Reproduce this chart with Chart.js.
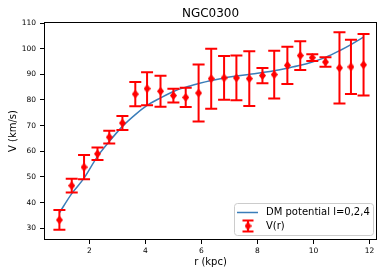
<!DOCTYPE html>
<html><head><meta charset="utf-8">
<script src="https://cdn.jsdelivr.net/npm/chart.js@4"></script>
<style>html,body{margin:0;padding:0;background:#fff}#wrap{width:385px;height:277px;position:relative}</style>
</head><body><div id="wrap"><canvas id="c" width="385" height="277"></canvas></div>
<script>
const chartTitle = 'NGC0300';
const xLabel = 'r (kpc)';
const yLabel = 'V (km/s)';
const seriesNames = ['DM potential l=0,2,4', 'V(r)'];
const radius = [0.93,1.37,1.81,2.29,2.71,3.18,3.64,4.06,4.54,5.00,5.44,5.90,6.35,6.81,7.25,7.71,8.18,8.60,9.07,9.53,9.96,10.43,10.93,11.34,11.79];
const velocity = [33.2,46.6,53.8,59.0,65.5,71.0,82.3,84.4,83.4,81.7,81.0,82.7,88.3,88.6,88.6,88.3,89.5,89.9,93.5,97.3,96.5,94.8,92.5,92.9,93.7];
const velocityErr = [3.85,2.65,4.7,2.45,2.45,2.7,4.75,6.45,6.05,2.65,3.75,11.1,11.7,8.5,8.7,10.7,3.0,9.3,7.25,5.6,1.3,1.85,13.9,10.55,12.0];
const modelVelocity = [36.0,43.5,49.5,58.0,63.8,69.7,74.3,77.9,80.8,83.3,85.0,86.4,87.6,88.6,89.3,90.0,90.7,91.4,92.4,93.5,94.8,96.6,99.2,101.6,104.5];
const xTicks = [2,4,6,8,10,12];
const yTicks = [30,40,50,60,70,80,90,100,110];

const lineColor = '#3a7db9';
const errColor = '#ff0000';

function makeDiamond(){
  const c = document.createElement('canvas');
  c.width = 7; c.height = 9;
  const g = c.getContext('2d');
  g.fillStyle = errColor;
  g.beginPath();
  g.moveTo(3.5,0); g.lineTo(7,4.5); g.lineTo(3.5,9); g.lineTo(0,4.5); g.closePath();
  g.fill();
  return c;
}
const diamond = makeDiamond();

const errorBarPlugin = {
  id: 'errbars',
  afterDatasetDraw(chart, args) {
    if (args.index !== 0) return;
    const ctx = chart.ctx, xs = chart.scales.x, ys = chart.scales.y;
    ctx.save();
    ctx.strokeStyle = errColor; ctx.lineWidth = 2;
    for (let i = 0; i < radius.length; i++) {
      const x = xs.getPixelForValue(radius[i]);
      const yt = ys.getPixelForValue(velocity[i] + velocityErr[i]);
      const yb = ys.getPixelForValue(velocity[i] - velocityErr[i]);
      ctx.beginPath();
      ctx.moveTo(x, yt); ctx.lineTo(x, yb);
      ctx.moveTo(x - 6, yt); ctx.lineTo(x + 6, yt);
      ctx.moveTo(x - 6, yb); ctx.lineTo(x + 6, yb);
      ctx.stroke();
    }
    ctx.restore();
  }
};

const framePlugin = {
  id: 'frame',
  afterDraw(chart) {
    const ctx = chart.ctx, a = chart.chartArea;
    ctx.save();
    ctx.strokeStyle = '#000'; ctx.lineWidth = 1;
    ctx.strokeRect(Math.round(a.left) + 0.5, Math.round(a.top) + 0.5, Math.round(a.right - a.left) - 1, Math.round(a.bottom - a.top) - 1);
    ctx.fillStyle = '#000';
    ctx.font = '12px "DejaVu Sans"';
    ctx.textAlign = 'center'; ctx.textBaseline = 'alphabetic';
    ctx.fillText(chartTitle, (a.left + a.right) / 2, 17);
    const bx = 234.5, by = 203.5, bw = 139, bh = 32, r = 3;
    ctx.beginPath();
    ctx.moveTo(bx + r, by); ctx.lineTo(bx + bw - r, by); ctx.arcTo(bx + bw, by, bx + bw, by + r, r);
    ctx.lineTo(bx + bw, by + bh - r); ctx.arcTo(bx + bw, by + bh, bx + bw - r, by + bh, r);
    ctx.lineTo(bx + r, by + bh); ctx.arcTo(bx, by + bh, bx, by + bh - r, r);
    ctx.lineTo(bx, by + r); ctx.arcTo(bx, by, bx + r, by, r); ctx.closePath();
    ctx.fillStyle = 'rgba(255,255,255,0.8)'; ctx.fill();
    ctx.strokeStyle = '#cccccc'; ctx.lineWidth = 1; ctx.stroke();
    ctx.strokeStyle = lineColor; ctx.lineWidth = 1.5;
    ctx.beginPath(); ctx.moveTo(237, 212.5); ctx.lineTo(258, 212.5); ctx.stroke();
    ctx.strokeStyle = errColor; ctx.lineWidth = 2;
    ctx.beginPath();
    ctx.moveTo(248, 220.5); ctx.lineTo(248, 231.5);
    ctx.moveTo(242.5, 220.5); ctx.lineTo(253.5, 220.5);
    ctx.moveTo(242.5, 231.5); ctx.lineTo(253.5, 231.5);
    ctx.stroke();
    ctx.drawImage(diamond, 248 - 3.5, 226 - 4.5);
    ctx.fillStyle = '#000';
    ctx.font = '10px "DejaVu Sans"';
    ctx.textAlign = 'left'; ctx.textBaseline = 'middle';
    ctx.fillText(seriesNames[0], 266, 212.5);
    ctx.fillText(seriesNames[1], 266, 226.5);
    ctx.restore();
  }
};

new Chart(document.getElementById('c'), {
  data: {
    datasets: [
      {
        type: 'line', label: seriesNames[0], order: 1,
        data: radius.map((x, i) => ({x, y: modelVelocity[i]})),
        borderColor: lineColor, borderWidth: 1.5, pointRadius: 0,
        tension: 0.4, cubicInterpolationMode: 'monotone', fill: false
      },
      {
        type: 'scatter', label: seriesNames[1], order: 0,
        data: radius.map((x, i) => ({x, y: velocity[i]})),
        pointStyle: diamond, pointRadius: 4, showLine: false
      }
    ]
  },
  options: {
    responsive: false, animation: false, devicePixelRatio: 1,
    layout: {padding: {left: 0, top: 22, right: 8, bottom: 0}},
    plugins: {legend: {display: false}, title: {display: false}, tooltip: {enabled: false}},
    scales: {
      x: {
        type: 'linear', min: 0.38, max: 12.27,
        afterBuildTicks: s => { s.ticks = xTicks.map(v => ({value: v})); },
        afterFit: s => { s.height = 37; },
        ticks: {font: {family: 'DejaVu Sans', size: 7.5}, color: '#000', padding: 3, maxRotation: 0, autoSkip: false},
        grid: {drawOnChartArea: false, drawTicks: true, tickLength: 4, color: '#000'},
        border: {display: false},
        title: {display: true, text: xLabel, font: {family: 'DejaVu Sans', size: 10}, color: '#000', padding: {top: 0, bottom: 9}}
      },
      y: {
        type: 'linear', min: 25.4, max: 110.4,
        afterBuildTicks: s => { s.ticks = yTicks.map(v => ({value: v})); },
        afterFit: s => { s.width = 44; },
        ticks: {font: {family: 'DejaVu Sans', size: 7.5}, color: '#000', padding: 4, autoSkip: false},
        grid: {drawOnChartArea: false, drawTicks: true, tickLength: 4, color: '#000'},
        border: {display: false},
        title: {display: true, text: yLabel, font: {family: 'DejaVu Sans', size: 10}, color: '#000', padding: {top: 7, bottom: 0}}
      }
    }
  },
  plugins: [errorBarPlugin, framePlugin]
});
</script>
</body></html>
